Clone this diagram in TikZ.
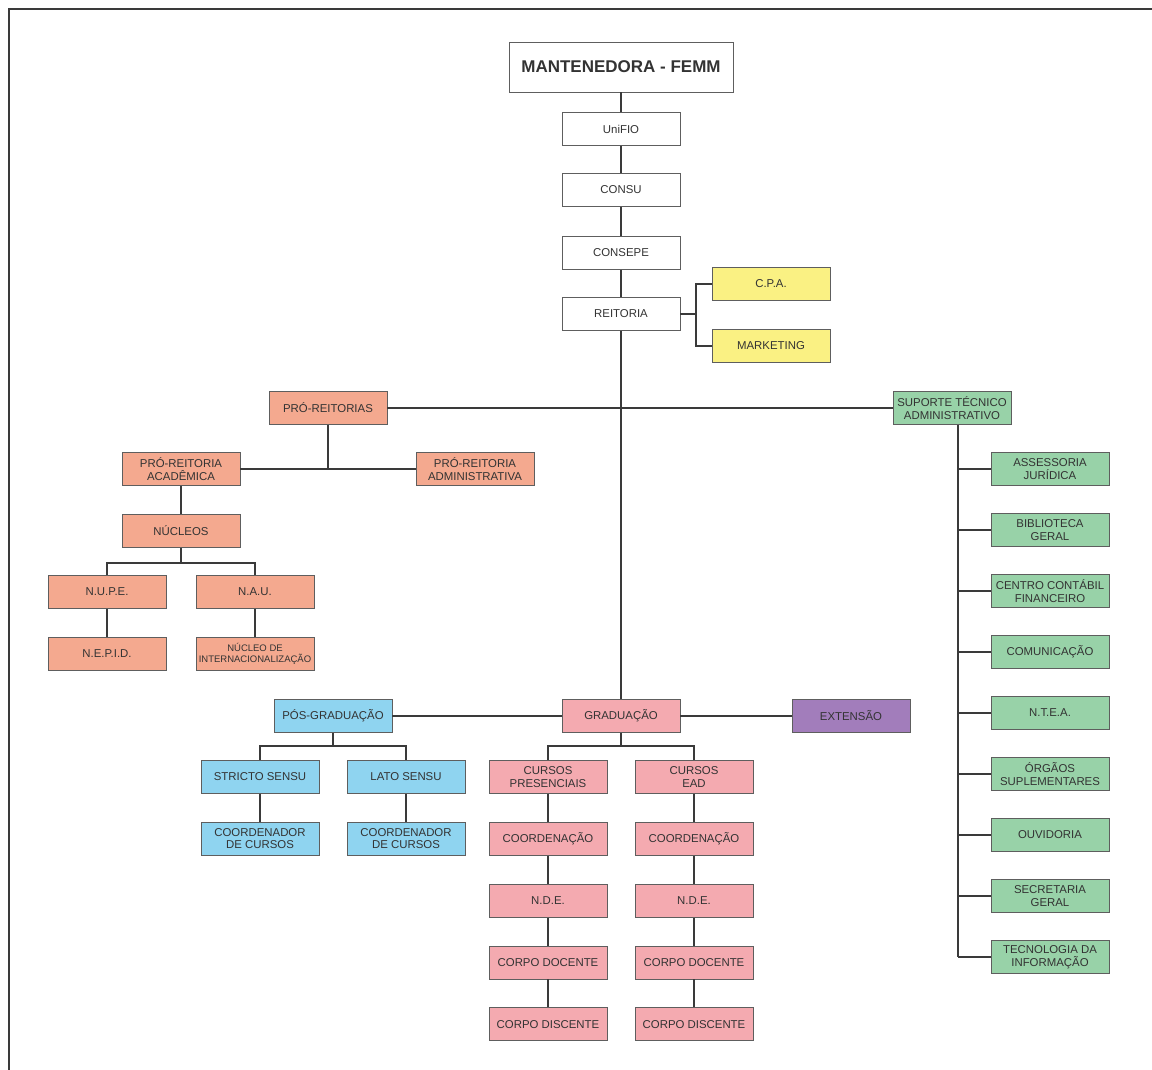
\documentclass[tikz,border=0pt]{standalone}
\usepackage{fontspec}
\setmainfont{Liberation Sans}
\usetikzlibrary{positioning}
\definecolor{boxline}{HTML}{5E5E5E}
\definecolor{linegrey}{HTML}{3A3A3A}
\definecolor{textgrey}{HTML}{333333}
\definecolor{salmao}{HTML}{F4A98F}
\definecolor{rosa}{HTML}{F4AAB0}
\definecolor{azul}{HTML}{8FD4F0}
\definecolor{lilas}{HTML}{A27DBB}
\definecolor{verde}{HTML}{98D2A8}
\definecolor{amarelo}{HTML}{FAF183}
\tikzset{
	x=1pt, y=-1pt, % one unit is one pixel of the chart, y grows downwards
	node distance=28pt, % gap between two boxes of a column
	box/.style={draw=boxline, line width=0.8pt, minimum width=118pt, minimum height=33pt, inner sep=1pt, align=center, text=textgrey, font=\fontsize{11.4}{12.5}\selectfont}, % every box of the chart
	branco/.style={box, fill=white},
	reitbox/.style={box, fill=salmao},
	gradbox/.style={box, fill=rosa},
	posbox/.style={box, fill=azul},
	extbox/.style={box, fill=lilas},
	apoiobox/.style={box, fill=verde},
	cpabox/.style={box, fill=amarelo},
	link/.style={draw=linegrey, line width=1.3pt}, % the connecting lines
	frame/.style={draw=linegrey, line width=1.6pt},
}
\begin{document}
\begin{tikzpicture}
	\useasboundingbox (0,0) rectangle (1152,1070);
	\draw[frame] (8.7,1070) -- (8.7,9) -- (1152,9);
			\node[branco, minimum width=224pt, minimum height=50pt, font=\bfseries\fontsize{17}{20}\selectfont] at (621,67) (mant) {MANTENEDORA - FEMM};
			\node[branco] at (621,129) (unifio) {UniFIO};
			\node[branco] at (621,190) (consu) {CONSU};
			\node[branco] at (621,253) (consepe) {CONSEPE};
			\node[branco] at (621,314) (reitoria) {REITORIA};
			\node[cpabox] at (771,284) (cpa) {C.P.A.};
			\node[cpabox] at (771,346) (mkt) {MARKETING};
			\coordinate (rj) at (696,314);
			\node[reitbox] at (328,408) (proreit) {PRÓ-REITORIAS};
			\node[reitbox] at (181,469) (acad) {PRÓ-REITORIA\\ACADÊMICA};
			\node[reitbox] at (475,469) (adm) {PRÓ-REITORIA\\ADMINISTRATIVA};
			\node[reitbox, below=of acad] (nucleos) {NÚCLEOS};
			\node[reitbox] at (107,592) (nupe) {N.U.P.E.};
			\node[reitbox] at (255,592) (nau) {N.A.U.};
			\node[reitbox, below=of nupe] (nepid) {N.E.P.I.D.};
			\node[reitbox, below=of nau, font=\fontsize{9.5}{10.5}\selectfont] (nint) {NÚCLEO DE\\INTERNACIONALIZAÇÃO};
			\coordinate (nj) at (181,563);
			\node[apoiobox] at (952,408) (suporte) {SUPORTE TÉCNICO\\ADMINISTRATIVO};
			\node[apoiobox] at (1050,469) (assess) {ASSESSORIA\\JURÍDICA};
			\node[apoiobox, below=27.2pt of assess] (biblio) {BIBLIOTECA\\GERAL};
			\node[apoiobox, below=27.2pt of biblio] (centro) {CENTRO CONTÁBIL\\FINANCEIRO};
			\node[apoiobox, below=27.2pt of centro] (comunic) {COMUNICAÇÃO};
			\node[apoiobox, below=27.2pt of comunic] (ntea) {N.T.E.A.};
			\node[apoiobox, below=27.2pt of ntea] (orgaos) {ÓRGÃOS\\SUPLEMENTARES};
			\node[apoiobox, below=27.2pt of orgaos] (ouvid) {OUVIDORIA};
			\node[apoiobox, below=27.2pt of ouvid] (secret) {SECRETARIA\\GERAL};
			\node[apoiobox, below=27.2pt of secret] (tecinfo) {TECNOLOGIA DA\\INFORMAÇÃO};
			\coordinate (sj) at (958,408);
			\node[posbox] at (333,716) (pos) {PÓS-GRADUAÇÃO};
			\node[gradbox] at (621,716) (grad) {GRADUAÇÃO};
			\node[extbox] at (851,716) (ext) {EXTENSÃO};
			\node[posbox] at (260,777) (stricto) {STRICTO SENSU};
			\node[posbox] at (406,777) (lato) {LATO SENSU};
			\node[posbox, below=of stricto] (coordss) {COORDENADOR\\DE CURSOS};
			\node[posbox, below=of lato] (coordls) {COORDENADOR\\DE CURSOS};
			\coordinate (pj) at (333,746);
			\node[gradbox] at (548,777) (presenc) {CURSOS\\PRESENCIAIS};
			\node[gradbox] at (694,777) (ead) {CURSOS\\EAD};
			\node[gradbox, below=of presenc] (coordp) {COORDENAÇÃO};
			\node[gradbox, below=of ead] (coorde) {COORDENAÇÃO};
			\node[gradbox, below=of coordp] (ndep) {N.D.E.};
			\node[gradbox, below=of coorde] (ndee) {N.D.E.};
			\node[gradbox, below=of ndep] (docp) {CORPO DOCENTE};
			\node[gradbox, below=of ndee] (doce) {CORPO DOCENTE};
			\node[gradbox, below=of docp] (disp) {CORPO DISCENTE};
			\node[gradbox, below=of doce] (dise) {CORPO DISCENTE};
			\coordinate (gj) at (621,746);
	\draw[link] (mant) -- (unifio) -- (consu) -- (consepe) -- (reitoria) -- (grad);
	\draw[link] (reitoria) -- (rj) (cpa) -| (rj) |- (mkt);
	\draw[link] (proreit) -- (suporte);
	\draw[link] (proreit) -- (proreit |- acad) (acad) -- (adm);
	\draw[link] (acad) -- (nucleos) (nucleos) -- (nj) (nupe) |- (nj) -| (nau);
	\draw[link] (nupe) -- (nepid) (nau) -- (nint);
	\draw[link] (suporte.south -| sj) -- (tecinfo -| sj);
	\draw[link] (assess) -- (assess -| sj) (biblio) -- (biblio -| sj) (centro) -- (centro -| sj)
			(comunic) -- (comunic -| sj) (ntea) -- (ntea -| sj) (orgaos) -- (orgaos -| sj)
			(ouvid) -- (ouvid -| sj) (secret) -- (secret -| sj) (tecinfo) -- (tecinfo -| sj);
	\draw[link] (pos) -- (grad) -- (ext);
	\draw[link] (pos) -- (pj) (stricto) |- (pj) -| (lato);
	\draw[link] (stricto) -- (coordss) (lato) -- (coordls);
	\draw[link] (grad) -- (gj) (presenc) |- (gj) -| (ead);
	\draw[link] (presenc) -- (coordp) -- (ndep) -- (docp) -- (disp);
	\draw[link] (ead) -- (coorde) -- (ndee) -- (doce) -- (dise);
\end{tikzpicture}
\end{document}
